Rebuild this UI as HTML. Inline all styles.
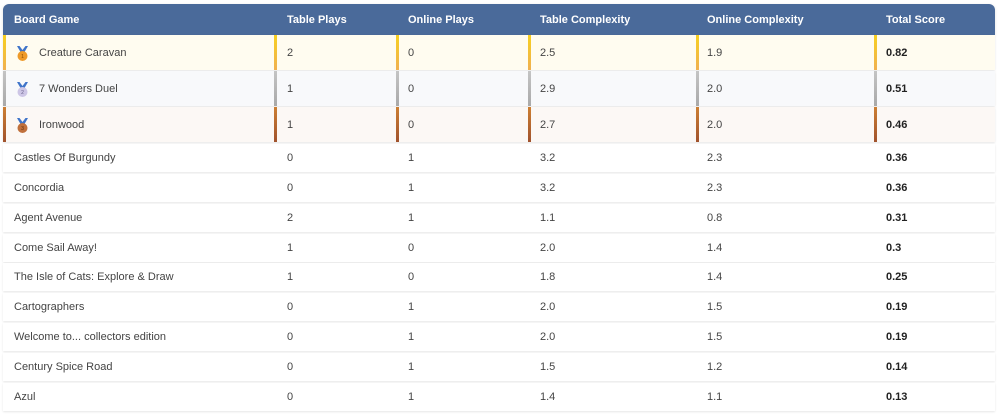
<!DOCTYPE html>
<html><head><meta charset="utf-8">
<style>
html,body{margin:0;padding:0;background:#fff;width:1000px;height:415px;overflow:hidden;font-family:"Liberation Sans",Arial,sans-serif;}
.hdr{position:absolute;left:3px;top:4px;width:992px;height:31px;background:#4a6a9a;border-radius:6px 6px 0 0;box-shadow:0 1px 3px rgba(0,0,0,0.12);}
.row{position:absolute;left:3px;width:992px;box-shadow:0 1px 2px rgba(0,0,0,0.10);}
.c{position:absolute;top:0;font-size:11px;color:#444;white-space:nowrap;}
.hdr .c{color:#fff;font-weight:bold;line-height:32px;}
.t .c{line-height:37px;}
.n .c{line-height:28px;}
.b{font-weight:bold;color:#222 !important;}
.bar{position:absolute;top:0;width:3px;height:35px;}
</style></head><body>
<div class="hdr">
 <div class="c" style="left:11px">Board Game</div>
 <div class="c" style="left:284px">Table Plays</div>
 <div class="c" style="left:405px">Online Plays</div>
 <div class="c" style="left:537px">Table Complexity</div>
 <div class="c" style="left:704px">Online Complexity</div>
 <div class="c" style="left:883px">Total Score</div>
</div>

<!-- Row 1 gold -->
<div class="row t" style="top:35px;height:35px;background:#fffcf0;">
 <div class="bar" style="left:0;background:linear-gradient(#f7d020,#f0b050);"></div>
 <div class="bar" style="left:271px;background:linear-gradient(#f7d020,#f0b050);"></div>
 <div class="bar" style="left:393px;background:linear-gradient(#f7d020,#f0b050);"></div>
 <div class="bar" style="left:525px;background:linear-gradient(#f7d020,#f0b050);"></div>
 <div class="bar" style="left:693px;background:linear-gradient(#f7d020,#f0b050);"></div>
 <div class="bar" style="left:871px;background:linear-gradient(#f7d020,#f0b050);"></div>
 <svg style="position:absolute;left:13px;top:10px" width="13" height="17" viewBox="0 0 13 17"><path d="M1 1 L4.5 7 L8.5 7 L12 1 L9.5 1 L6.5 5 L3.5 1Z" fill="#3f74c9"/><circle cx="6.5" cy="11" r="5" fill="#ee9a2a"/><text x="6.5" y="13" font-size="5" text-anchor="middle" fill="#8a4a00" font-family="Liberation Sans">1</text></svg>
 <div class="c" style="left:36px">Creature Caravan</div>
 <div class="c" style="left:284px">2</div>
 <div class="c" style="left:405px">0</div>
 <div class="c" style="left:537px">2.5</div>
 <div class="c" style="left:704px">1.9</div>
 <div class="c b" style="left:883px">0.82</div>
</div>

<!-- Row 2 silver -->
<div class="row t" style="top:71px;height:35px;background:#f8f9fb;">
 <div class="bar" style="left:0;background:linear-gradient(#c4c4c4,#a9a9a9);"></div>
 <div class="bar" style="left:271px;background:linear-gradient(#c4c4c4,#a9a9a9);"></div>
 <div class="bar" style="left:393px;background:linear-gradient(#c4c4c4,#a9a9a9);"></div>
 <div class="bar" style="left:525px;background:linear-gradient(#c4c4c4,#a9a9a9);"></div>
 <div class="bar" style="left:693px;background:linear-gradient(#c4c4c4,#a9a9a9);"></div>
 <div class="bar" style="left:871px;background:linear-gradient(#c4c4c4,#a9a9a9);"></div>
 <svg style="position:absolute;left:13px;top:10px" width="13" height="17" viewBox="0 0 13 17"><path d="M1 1 L4.5 7 L8.5 7 L12 1 L9.5 1 L6.5 5 L3.5 1Z" fill="#3f74c9"/><circle cx="6.5" cy="11" r="5" fill="#cdc6e6"/><text x="6.5" y="13" font-size="5" text-anchor="middle" fill="#665f88" font-family="Liberation Sans">2</text></svg>
 <div class="c" style="left:36px">7 Wonders Duel</div>
 <div class="c" style="left:284px">1</div>
 <div class="c" style="left:405px">0</div>
 <div class="c" style="left:537px">2.9</div>
 <div class="c" style="left:704px">2.0</div>
 <div class="c b" style="left:883px">0.51</div>
</div>

<!-- Row 3 bronze -->
<div class="row t" style="top:107px;height:35px;background:#fcf8f5;">
 <div class="bar" style="left:0;background:linear-gradient(#cd7f32,#a0522d);"></div>
 <div class="bar" style="left:271px;background:linear-gradient(#cd7f32,#a0522d);"></div>
 <div class="bar" style="left:393px;background:linear-gradient(#cd7f32,#a0522d);"></div>
 <div class="bar" style="left:525px;background:linear-gradient(#cd7f32,#a0522d);"></div>
 <div class="bar" style="left:693px;background:linear-gradient(#cd7f32,#a0522d);"></div>
 <div class="bar" style="left:871px;background:linear-gradient(#cd7f32,#a0522d);"></div>
 <svg style="position:absolute;left:13px;top:10px" width="13" height="17" viewBox="0 0 13 17"><path d="M1 1 L4.5 7 L8.5 7 L12 1 L9.5 1 L6.5 5 L3.5 1Z" fill="#3f74c9"/><circle cx="6.5" cy="11" r="5" fill="#c0703c"/><text x="6.5" y="13" font-size="5" text-anchor="middle" fill="#5a2a08" font-family="Liberation Sans">3</text></svg>
 <div class="c" style="left:36px">Ironwood</div>
 <div class="c" style="left:284px">1</div>
 <div class="c" style="left:405px">0</div>
 <div class="c" style="left:537px">2.7</div>
 <div class="c" style="left:704px">2.0</div>
 <div class="c b" style="left:883px">0.46</div>
</div>

<div class="row n" style="top:144px;height:28px;background:#fff;"><div class="c" style="left:11px">Castles Of Burgundy</div><div class="c" style="left:284px">0</div><div class="c" style="left:405px">1</div><div class="c" style="left:537px">3.2</div><div class="c" style="left:704px">2.3</div><div class="c b" style="left:883px">0.36</div></div>
<div class="row n" style="top:174px;height:28px;background:#fff;"><div class="c" style="left:11px">Concordia</div><div class="c" style="left:284px">0</div><div class="c" style="left:405px">1</div><div class="c" style="left:537px">3.2</div><div class="c" style="left:704px">2.3</div><div class="c b" style="left:883px">0.36</div></div>
<div class="row n" style="top:204px;height:28px;background:#fff;"><div class="c" style="left:11px">Agent Avenue</div><div class="c" style="left:284px">2</div><div class="c" style="left:405px">1</div><div class="c" style="left:537px">1.1</div><div class="c" style="left:704px">0.8</div><div class="c b" style="left:883px">0.31</div></div>
<div class="row n" style="top:234px;height:28px;background:#fff;"><div class="c" style="left:11px">Come Sail Away!</div><div class="c" style="left:284px">1</div><div class="c" style="left:405px">0</div><div class="c" style="left:537px">2.0</div><div class="c" style="left:704px">1.4</div><div class="c b" style="left:883px">0.3</div></div>
<div class="row n" style="top:263px;height:28px;background:#fff;"><div class="c" style="left:11px">The Isle of Cats: Explore &amp; Draw</div><div class="c" style="left:284px">1</div><div class="c" style="left:405px">0</div><div class="c" style="left:537px">1.8</div><div class="c" style="left:704px">1.4</div><div class="c b" style="left:883px">0.25</div></div>
<div class="row n" style="top:293px;height:28px;background:#fff;"><div class="c" style="left:11px">Cartographers</div><div class="c" style="left:284px">0</div><div class="c" style="left:405px">1</div><div class="c" style="left:537px">2.0</div><div class="c" style="left:704px">1.5</div><div class="c b" style="left:883px">0.19</div></div>
<div class="row n" style="top:323px;height:28px;background:#fff;"><div class="c" style="left:11px">Welcome to... collectors edition</div><div class="c" style="left:284px">0</div><div class="c" style="left:405px">1</div><div class="c" style="left:537px">2.0</div><div class="c" style="left:704px">1.5</div><div class="c b" style="left:883px">0.19</div></div>
<div class="row n" style="top:353px;height:28px;background:#fff;"><div class="c" style="left:11px">Century Spice Road</div><div class="c" style="left:284px">0</div><div class="c" style="left:405px">1</div><div class="c" style="left:537px">1.5</div><div class="c" style="left:704px">1.2</div><div class="c b" style="left:883px">0.14</div></div>
<div class="row n" style="top:383px;height:28px;background:#fff;"><div class="c" style="left:11px">Azul</div><div class="c" style="left:284px">0</div><div class="c" style="left:405px">1</div><div class="c" style="left:537px">1.4</div><div class="c" style="left:704px">1.1</div><div class="c b" style="left:883px">0.13</div></div>
</body></html>
